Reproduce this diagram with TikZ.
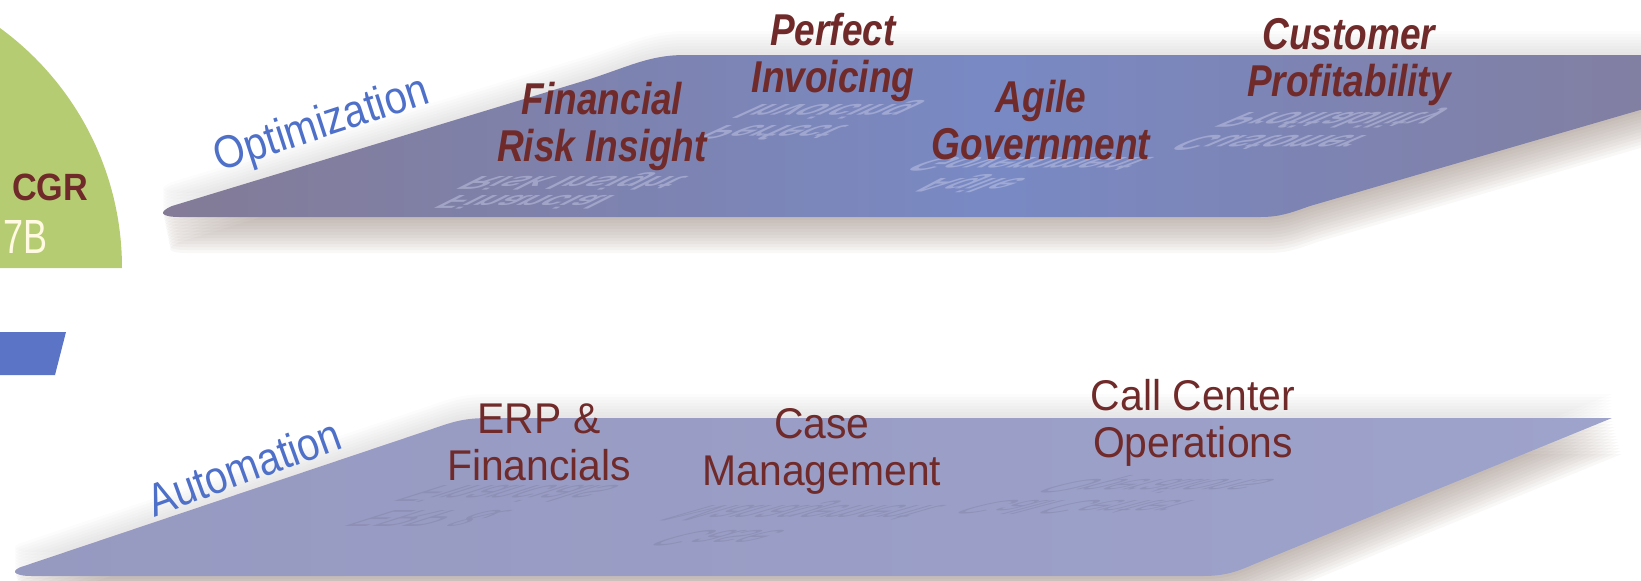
\documentclass[tikz,border=0pt]{standalone}
\usepackage{fontspec}
\setmainfont{Liberation Sans}
\newfontfamily\topfont[FakeStretch=0.83]{Liberation Sans}
\newfontfamily\botfont[FakeStretch=0.95]{Liberation Sans}
\newfontfamily\phasefont[FakeStretch=0.87]{Liberation Sans}
\newfontfamily\cgrfont[FakeStretch=0.9]{Liberation Sans}
\newfontfamily\sbfont[FakeStretch=0.75]{Liberation Sans}
\definecolor{maroon}{RGB}{112,42,42}
\definecolor{phaseblue}{RGB}{78,112,200}
\definecolor{cgrgreen}{RGB}{181,204,114}
\definecolor{cream}{RGB}{255,250,225}
\definecolor{barblue}{RGB}{92,116,198}
\definecolor{topleft}{RGB}{131,123,150}
\definecolor{topmid}{RGB}{121,137,196}
\definecolor{topright}{RGB}{132,124,152}
\definecolor{botleft}{RGB}{150,153,192}
\definecolor{botright}{RGB}{158,163,204}
\definecolor{shadowc}{RGB}{140,120,110}
\definecolor{glowc}{RGB}{150,145,145}
\definecolor{refltop}{RGB}{205,208,235}
\definecolor{reflbot}{RGB}{125,125,160}
\newcommand\TopPlane{(180,217) .. controls (160,217) and (158,212) .. (172,206) -- (590,79) .. controls (630,66) and (650,55) .. (685,55) -- (1829,55) -- (1310,206) .. controls (1290,213) and (1280,217) .. (1260,217) -- cycle}
\newcommand\BotPlane{(32,576) .. controls (12,576) and (10,570) .. (24,566) -- (432,429) .. controls (455,421) and (465,418) .. (490,418) -- (1612,418) -- (1252,565) .. controls (1234,573) and (1222,576) .. (1202,576) -- cycle}
\tikzset{
  toplab/.style={anchor=north, inner sep=0pt, align=center, text=maroon,
    font=\topfont\bfseries\itshape\fontsize{22.3}{23.5}\selectfont},
  botlab/.style={anchor=north, inner sep=0pt, align=center, text=maroon,
    font=\botfont\fontsize{21.5}{23.5}\selectfont},
  phase/.style={inner sep=0pt, text=phaseblue, font=\phasefont\fontsize{23}{26}\selectfont},
  toprefl/.style={anchor=south, inner sep=0pt, align=center, text=refltop, text opacity=0.45,
    transform shape, font=\topfont\bfseries\itshape\fontsize{22.3}{23.5}\selectfont},
  botrefl/.style={anchor=south, inner sep=0pt, align=center, text=reflbot, text opacity=0.4,
    transform shape, font=\botfont\fontsize{21.5}{23.5}\selectfont},
  shadowlayer/.style={fill=shadowc, fill opacity=0.055},
  glowlayer/.style={fill=glowc, fill opacity=0.03}
}
\begin{document}
\begin{tikzpicture}[x=0.5pt,y=-0.5pt]
\useasboundingbox (0,0) rectangle (1641,580);
\begin{scope}
\clip (0,0) rectangle (1641,580);
% left pie piece and bar
\fill[cgrgreen] (-175,268) -- (122,268) arc[start angle=0, end angle=-90, radius=297] -- cycle;
\fill[barblue] (0,332) -- (66,332) -- (55,375) -- (0,375) -- cycle;
\node[anchor=base, inner sep=0pt, text=maroon, font=\cgrfont\bfseries\fontsize{19}{20}\selectfont] (cgr) at (50,200) {CGR};
\node[anchor=base west, inner sep=0pt, text=cream, font=\sbfont\fontsize{24}{25}\selectfont] (sevenb) at (3,253) {7B};
% top plane: glow, shadow, body
\foreach \i in {1,...,8} {\fill[glowlayer, shift={(0,-\i*3)}] \TopPlane;}
\foreach \i in {1,...,12} {\fill[shadowlayer, shift={(\i*0.6,\i*3)}] \TopPlane;}
\shade[left color=topleft, right color=topright, middle color=topmid] \TopPlane;
% bottom plane: glow, shadow, body
\foreach \i in {1,...,8} {\fill[glowlayer, shift={(0,-\i*3)}] \BotPlane;}
\foreach \i in {1,...,12} {\fill[shadowlayer, shift={(\i*0.8,\i*3)}] \BotPlane;}
\shade[left color=botleft, right color=botright] \BotPlane;
% reflections (top)
\begin{scope}[shift={(596,172)}]
  \node[toprefl, cm={1,0,-1.0,-0.42,(0,0)}] (r1) at (0,0) {Financial\\Risk Insight};
\end{scope}
\begin{scope}[shift={(854,100)}]
  \node[toprefl, cm={1,0,-1.15,-0.45,(0,0)}] (r2) at (0,0) {Perfect\\Invoicing};
\end{scope}
\begin{scope}[shift={(1049,157)}]
  \node[toprefl, cm={1,0,-1.3,-0.44,(0,0)}] (r3) at (0,0) {Agile\\Government};
\end{scope}
\begin{scope}[shift={(1363,108)}]
  \node[toprefl, cm={1,0,-1.3,-0.48,(0,0)}] (r4) at (0,0) {Customer\\Profitability};
\end{scope}
% reflections (bottom)
\begin{scope}[shift={(534,485)}]
  \node[botrefl, cm={1,0,-1.7,-0.54,(0,0)}] (r5) at (0,0) {ERP \&\\Financials};
\end{scope}
\begin{scope}[shift={(845,501)}]
  \node[botrefl, cm={1,0,-1.8,-0.52,(0,0)}] (r6) at (0,0) {Case\\Management};
\end{scope}
\begin{scope}[shift={(1196,475)}]
  \node[botrefl, cm={1,0,-1.7,-0.45,(0,0)}] (r7) at (0,0) {Call Center\\Operations};
\end{scope}
% phase labels
\node[phase, rotate=18] (opt) at (322,126) {Optimization};
\node[phase, rotate=20] (aut) at (244,467) {Automation};
% top labels
\node[toplab] (fri) at (602,82) {Financial\\Risk Insight};
\node[toplab] (pi) at (833,13) {Perfect\\Invoicing};
\node[toplab] (ag) at (1041,80) {Agile\\Government};
\node[toplab] (cp) at (1349,18) {Customer\\Profitability};
% bottom labels
\node[botlab] (erp) at (539,403) {ERP \&\\Financials};
\node[botlab] (cm) at (822,408) {Case\\Management};
\node[botlab] (cco) at (1193,379) {Call Center\\Operations};
\end{scope}
\end{tikzpicture}
\end{document}
